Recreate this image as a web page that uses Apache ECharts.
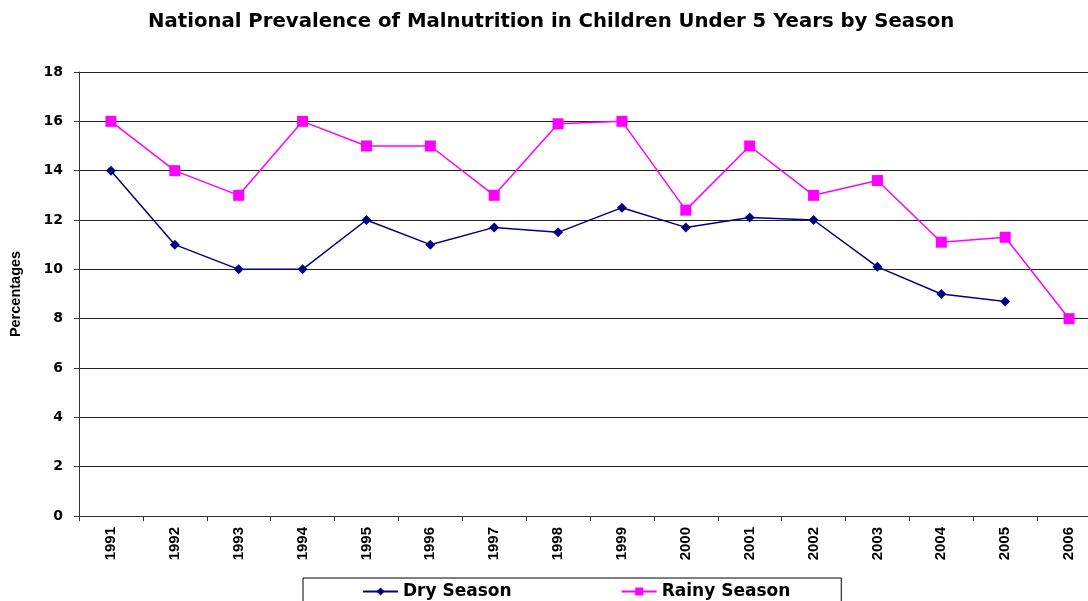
<!DOCTYPE html>
<html>
<head>
<meta charset="utf-8">
<script src="https://cdn.jsdelivr.net/npm/echarts@6/dist/echarts.min.js"></script>
<style>html,body{margin:0;padding:0;background:#fff}#c{width:1088px;height:601px}</style>
</head>
<body>
<div id="c"></div>
<script>
const years = ['1991','1992','1993','1994','1995','1996','1997','1998','1999','2000','2001','2002','2003','2004','2005','2006'];
const drySeason = [14, 11, 10, 10, 12, 11, 11.7, 11.5, 12.5, 11.7, 12.1, 12, 10.1, 9, 8.7, null];
const rainySeason = [16, 14, 13, 16, 15, 15, 13, 15.9, 16, 12.4, 15, 13, 13.6, 11.1, 11.3, 8];
const yTicks = [0, 2, 4, 6, 8, 10, 12, 14, 16, 18];

const ARIAL = '"Liberation Sans", Arial, sans-serif';
const WIDE = '"DejaVu Sans", sans-serif';
const chart = echarts.init(document.getElementById('c'), null, {renderer: 'canvas'});
chart.setOption({
  animation: false,
  backgroundColor: '#fff',
  title: {
    text: 'National Prevalence of Malnutrition in Children Under 5 Years by Season',
    left: 143, top: 7,
    textStyle: {fontFamily: WIDE, fontWeight: 'bold', fontSize: 19.7, color: '#000'}
  },
  grid: {left: 79, top: 72, bottom: 85, width: 1022, containLabel: false, outerBoundsMode: 'none'},
  legend: {
    left: 303, top: 578,
    padding: [5, 51, 12, 59],
    itemGap: 109,
    itemWidth: 35, itemHeight: 10,
    borderColor: '#000', borderWidth: 1,
    textStyle: {fontFamily: WIDE, fontWeight: 'bold', fontSize: 17, color: '#000'},
    data: ['Dry Season', 'Rainy Season']
  },
  xAxis: {
    type: 'category',
    data: years,
    boundaryGap: true,
    axisLine: {lineStyle: {color: '#333', width: 1}},
    axisTick: {show: true, interval: 0, length: 5, lineStyle: {color: '#333'}},
    axisLabel: {interval: 0, rotate: 90, margin: 11, fontFamily: ARIAL, fontWeight: 'bold', fontSize: 15, color: '#000'}
  },
  yAxis: {
    type: 'value',
    min: yTicks[0], max: yTicks[yTicks.length - 1], interval: 2,
    name: 'Percentages',
    nameLocation: 'middle',
    nameRotate: 90,
    nameGap: 56,
    nameTextStyle: {fontFamily: ARIAL, fontWeight: 'bold', fontSize: 14.5, color: '#000'},
    axisLine: {show: true, lineStyle: {color: '#333', width: 1}},
    axisTick: {show: true, length: 5, lineStyle: {color: '#333'}},
    axisLabel: {margin: 16, fontFamily: WIDE, fontWeight: 'bold', fontSize: 14, color: '#000'},
    splitLine: {show: true, lineStyle: {color: '#222', width: 1}}
  },
  series: [
    {
      name: 'Dry Season', type: 'line', data: drySeason,
      color: '#000080',
      symbol: 'diamond', symbolSize: 10,
      lineStyle: {width: 1.5, color: '#000080'},
      itemStyle: {color: '#000080'},
      connectNulls: false
    },
    {
      name: 'Rainy Season', type: 'line', data: rainySeason,
      color: '#FF00FF',
      symbol: 'rect', symbolSize: 11,
      lineStyle: {width: 1.5, color: '#FF00FF'},
      itemStyle: {color: '#FF00FF'}
    }
  ]
});
</script>
</body>
</html>
